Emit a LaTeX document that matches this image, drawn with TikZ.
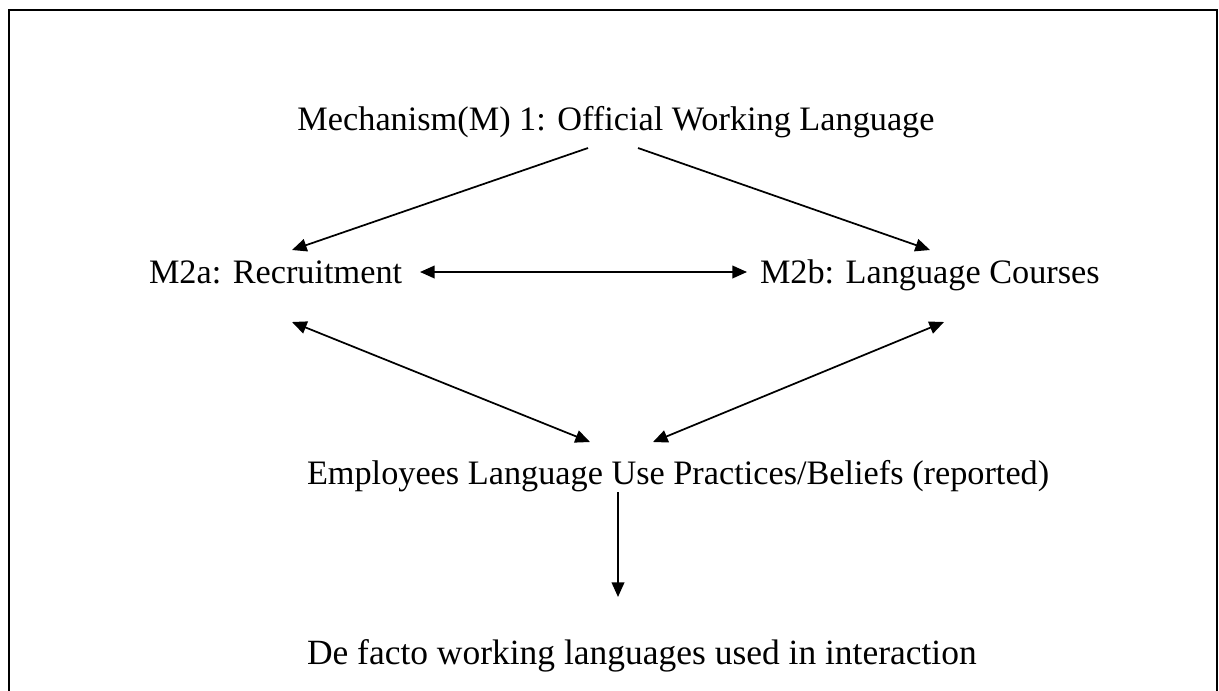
\documentclass[tikz,border=0pt]{standalone}
\usepackage{fontspec}
\setmainfont{Liberation Serif}
\usetikzlibrary{arrows.meta}

\tikzset{
  label text/.style={inner sep=0pt, outer sep=0pt, font=\fontsize{25.7}{30}\selectfont},
  link/.style={line width=1.3pt, -{Triangle[length=11pt,width=9.5pt]}},
  twoway/.style={line width=1.3pt, {Triangle[length=11pt,width=9.5pt]}-{Triangle[length=11pt,width=9.5pt]}},
  frame/.style={line width=1.1pt}
}

\begin{document}
\begin{tikzpicture}[x=0.75pt, y=-0.75pt]
  \useasboundingbox (0,0) rectangle (1219,690);

  % open frame (no bottom edge)
  \draw[frame] (9,700) -- (9,10) -- (1217,10) -- (1217,700);

  % texts
  \node[label text, anchor=base] (m1) at (616,130) {Mechanism(M) 1: Official Working Language};
  \node[label text, anchor=base west] (m2a) at (149,283) {M2a: Recruitment};
  \node[label text, anchor=base west] (m2b) at (760,283) {M2b: Language Courses};
  \node[label text, anchor=base west] (emp) at (307,484) {Employees Language Use Practices/Beliefs (reported)};
  \node[label text, anchor=base west, font=\fontsize{26.6}{30}\selectfont] (defacto) at (307,664) {De facto working languages used in interaction};

  % connector end points
  \coordinate (m1L) at (588,148);
  \coordinate (m1R) at (638,148);
  \coordinate (m2aT) at (292,250);
  \coordinate (m2bT) at (930,250);
  \coordinate (m2aR) at (420,272);
  \coordinate (m2bL) at (747,272);
  \coordinate (m2aB) at (292,322);
  \coordinate (m2bB) at (944,322);
  \coordinate (empL) at (590,442);
  \coordinate (empR) at (653,442);
  \coordinate (empB) at (618,492);
  \coordinate (defT) at (618,597);

  % connectors
  \draw[link] (m1L) -- (m2aT);
  \draw[link] (m1R) -- (m2bT);
  \draw[twoway] (m2aR) -- (m2bL);
  \draw[twoway] (m2aB) -- (empL);
  \draw[twoway] (m2bB) -- (empR);
  \draw[link] (empB) -- (defT);
\end{tikzpicture}
\end{document}
